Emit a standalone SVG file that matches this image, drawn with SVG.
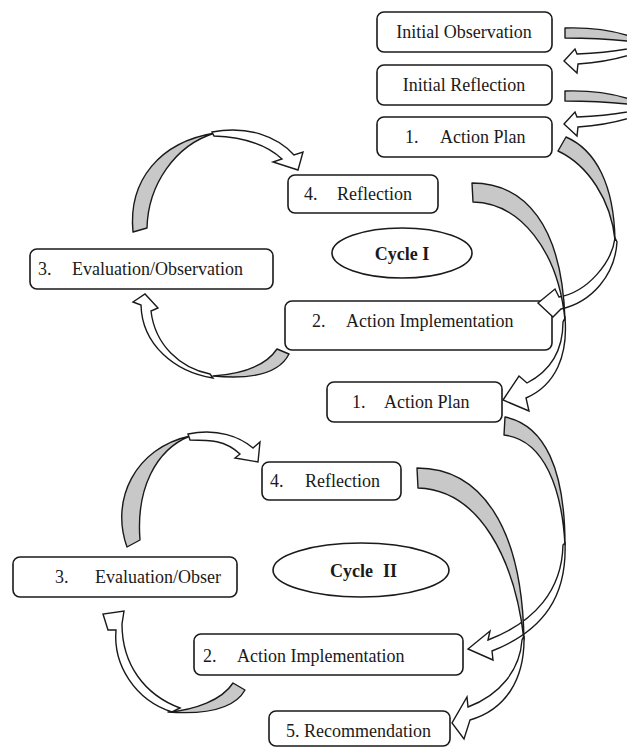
<svg xmlns="http://www.w3.org/2000/svg" width="627" height="748" viewBox="0 0 627 748">
<style>
.box{fill:#fff;stroke:#1a1a1a;stroke-width:1.6}
.t{font-family:"Liberation Serif","Times New Roman",serif;font-size:18px;fill:#1a1a1a}
.b{font-weight:bold}
.g{fill:#c8c8c8;stroke:#1a1a1a;stroke-width:1.4;stroke-linejoin:round}
.w{fill:#fff;stroke:#1a1a1a;stroke-width:1.4;stroke-linejoin:miter}
</style>
<defs>
<g id="uturn">
<path class="g" d="M565,28 C595,27 625,32 650,44 C625,40 595,38 565,38 Z"/>
<path class="w" d="M650,44 C628,50 600,53 577,54 L575,49 L564,61 L577,73 L578,64 C605,62 632,56 652,46 Z"/>
</g>
</defs>
<rect width="627" height="748" fill="#fff"/>
<g id="nodes">
<g id="initial-observation"><rect class="box" x="377" y="12" width="175" height="40" rx="7"/><text class="t" x="464" y="38" text-anchor="middle">Initial Observation</text></g>
<g id="initial-reflection"><rect class="box" x="377" y="65" width="175" height="40" rx="7"/><text class="t" x="464" y="91" text-anchor="middle">Initial Reflection</text></g>
<g id="action-plan-1"><rect class="box" x="377" y="117" width="175" height="40" rx="7"/><text class="t" x="405" y="143">1.</text><text class="t" x="440" y="143">Action Plan</text></g>
<g id="reflection-1"><rect class="box" x="288" y="175" width="150" height="38" rx="7"/><text class="t" x="304" y="200">4.</text><text class="t" x="337" y="200">Reflection</text></g>
<g id="cycle-1"><ellipse class="box" cx="402" cy="253" rx="70" ry="25"/><text class="t b" x="402" y="260" text-anchor="middle">Cycle I</text></g>
<g id="evaluation-1"><rect class="box" x="30" y="249" width="243" height="40" rx="7"/><text class="t" x="38" y="275">3.</text><text class="t" x="72" y="275">Evaluation/Observation</text></g>
<g id="implementation-1"><rect class="box" x="285" y="301" width="267" height="49" rx="7"/><text class="t" x="312" y="327">2.</text><text class="t" x="346" y="327">Action Implementation</text></g>
<g id="action-plan-2"><rect class="box" x="327" y="382" width="175" height="40" rx="7"/><text class="t" x="352" y="408">1.</text><text class="t" x="384" y="408">Action Plan</text></g>
<g id="reflection-2"><rect class="box" x="262" y="462" width="139" height="38" rx="7"/><text class="t" x="270" y="487">4.</text><text class="t" x="305" y="487">Reflection</text></g>
<g id="cycle-2"><ellipse class="box" cx="361" cy="570" rx="88" ry="27"/><text class="t b" x="330" y="577">Cycle</text><text class="t b" x="383" y="577">II</text></g>
<g id="evaluation-2"><rect class="box" x="13" y="557" width="224" height="40" rx="7"/><text class="t" x="55" y="583">3.</text><text class="t" x="95" y="583">Evaluation/Obser</text></g>
<g id="implementation-2"><rect class="box" x="194" y="634" width="269" height="41" rx="7"/><text class="t" x="203" y="662">2.</text><text class="t" x="237" y="662">Action Implementation</text></g>
<g id="recommendation"><rect class="box" x="269" y="711" width="181" height="35" rx="7"/><text class="t" x="286" y="737">5. Recommendation</text></g>
</g>
<g id="connectors">
<use href="#uturn"/>
<use href="#uturn" transform="translate(0,63)"/>
<path class="g" d="M566,137 C596,150 614,185 615,240 C611,200 588,165 558,151 Z"/>
<path class="w" d="M615,238 C612,262 588,292 559,297 L555,289 L538,303 L553,317 L561,309 C592,302 615,275 617,242 Z"/>
<path class="g" d="M472,183 C525,183 562,225 565,320 C558,250 520,203 473,202 Z"/>
<path class="w" d="M565,318 C568,355 556,385 526,398 L529,411 L503,400 L519,376 L527,383 C552,370 563,350 563,322 Z"/>
<path class="g" d="M289,354 C280,372 255,380 213,376 C240,374 265,367 277,349 Z"/>
<path class="w" d="M213,378 C175,372 142,345 141,305 L133,302 L145,294 L158,308 L151,311 C155,345 180,368 210,374 Z"/>
<path class="g" d="M133,232 C128,180 160,142 215,133 C175,145 148,185 147,228 Z"/>
<path class="w" d="M212,132 C248,125 278,137 294,155 L303,152 L298,170 L273,162 L282,159 C265,143 240,137 214,136 Z"/>
<path class="g" d="M505,417 C545,425 565,470 565,545 C562,490 545,440 504,435 Z"/>
<path class="w" d="M565,543 C567,595 545,630 492,651 L493,660 L468,649 L490,631 L488,640 C535,622 562,590 563,545 Z"/>
<path class="g" d="M417,468 C480,468 522,525 524,640 C515,560 480,490 418,488 Z"/>
<path class="w" d="M524,636 C525,680 505,710 470,720 L464,739 L452,723 L467,697 L468,707 C500,695 520,670 522,640 Z"/>
<path class="g" d="M245,690 C235,708 210,715 168,712 C195,710 222,700 233,683 Z"/>
<path class="w" d="M172,712 C135,700 113,665 116,630 L108,630 L103,614 L124,611 L122,624 C122,665 145,695 180,708 Z"/>
<path class="g" d="M127,547 C110,500 135,448 190,436 C155,450 136,490 140,540 Z"/>
<path class="w" d="M188,434 C218,428 240,437 253,448 L260,442 L258,462 L235,458 L240,454 C225,440 210,440 190,440 Z"/>
</g>
</svg>
